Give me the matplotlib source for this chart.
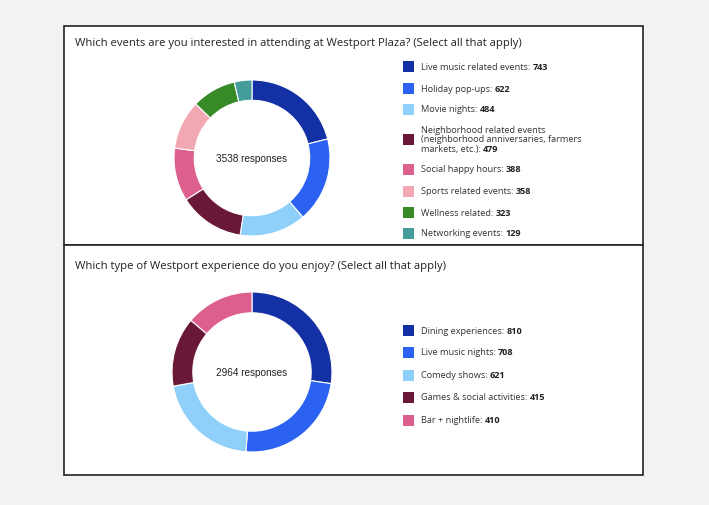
import matplotlib
matplotlib.use('Agg')
import matplotlib.pyplot as plt
from matplotlib.patches import Rectangle

# survey 1
events_labels = ['Live music related events', 'Holiday pop-ups', 'Movie nights',
                 'Neighborhood related events\n(neighborhood anniversaries, farmers\nmarkets, etc.)',
                 'Social happy hours', 'Sports related events', 'Wellness related',
                 'Networking events']
events_counts = [743, 622, 484, 479, 388, 358, 323, 129]
events_total = 3538

# survey 2
exp_labels = ['Dining experiences', 'Live music nights', 'Comedy shows',
              'Games & social activities', 'Bar + nightlife']
exp_counts = [810, 708, 621, 415, 410]
exp_total = 2964

colors = ['#1330a4', '#2b62f2', '#8ed0fa', '#6a1838', '#dd5f8e', '#f2a8b3',
          '#388a28', '#459d9b']

W, H = 709, 506
fig = plt.figure(figsize=(W / 100, H / 100), dpi=100)
fig.patch.set_facecolor('#f2f2f2')

LABEL_FONT = 'Open Sans'


def px(x, y):
    # pixel (top-left origin) -> figure fraction
    return x / W, 1 - y / H


def box(x0, y0, x1, y1):
    fig.patches.append(Rectangle((x0 / W, 1 - y1 / H), (x1 - x0) / W, (y1 - y0) / H,
                                 transform=fig.transFigure, facecolor='white',
                                 edgecolor='#222222', linewidth=1.2, zorder=-1))


def donut(cx, cy, r, counts, total):
    ax = fig.add_axes([(cx - r) / W, 1 - (cy + r) / H, 2 * r / W, 2 * r / H])
    ax.set_zorder(2)
    ax.patch.set_alpha(0)
    ax.pie(counts, colors=colors[:len(counts)], startangle=90, counterclock=False,
           radius=1, wedgeprops=dict(width=0.26, edgecolor='white', linewidth=0.8))
    ax.set_xlim(-1, 1)
    ax.set_ylim(-1, 1)
    ax.set_aspect('equal')
    ax.axis('off')
    ax.text(0, 0, '%d responses' % total, ha='center', va='center', fontsize=7.2,
            family='Liberation Sans', color='#222222')


def legend(x, ys, labels, counts):
    renderer = fig.canvas.get_renderer()
    for y, lab, n, c in zip(ys, labels, counts, colors):
        lines = lab.split('\n')
        fig.patches.append(Rectangle(px(x, y + 5.5), 11 / W, 11 / H,
                                     transform=fig.transFigure, facecolor=c,
                                     edgecolor='none'))
        step = 9.7
        y0 = y - step * (len(lines) - 1) / 2
        for i, ln in enumerate(lines):
            yy = y0 + i * step
            if i == len(lines) - 1:
                ln = ln + ': '
            t = fig.text(*px(x + 18, yy), ln, fontsize=6.55, family=LABEL_FONT,
                         va='center', ha='left', color='#333333')
        bb = t.get_window_extent(renderer)
        fig.text(bb.x1 / W, 1 - yy / H, str(n), fontsize=6.55, family=LABEL_FONT,
                 weight='bold', va='center', ha='left', color='#222222')


box(64, 27, 643, 246)
box(64, 246, 643, 476)

fig.text(*px(75, 44), 'Which events are you interested in attending at Westport Plaza? (Select all that apply)',
         fontsize=8.1, family=LABEL_FONT, va='center', color='#222222')
fig.text(*px(75, 267), 'Which type of Westport experience do you enjoy? (Select all that apply)',
         fontsize=8.1, family=LABEL_FONT, va='center', color='#222222')

donut(252, 159, 78, events_counts, events_total)
donut(252, 373, 80, exp_counts, exp_total)

legend(403, [67, 89, 110, 140, 170, 192, 213, 234], events_labels, events_counts)
legend(403, [331, 353, 376, 398, 421], exp_labels, exp_counts)

fig.savefig('out.png', dpi=100, facecolor=fig.get_facecolor())
